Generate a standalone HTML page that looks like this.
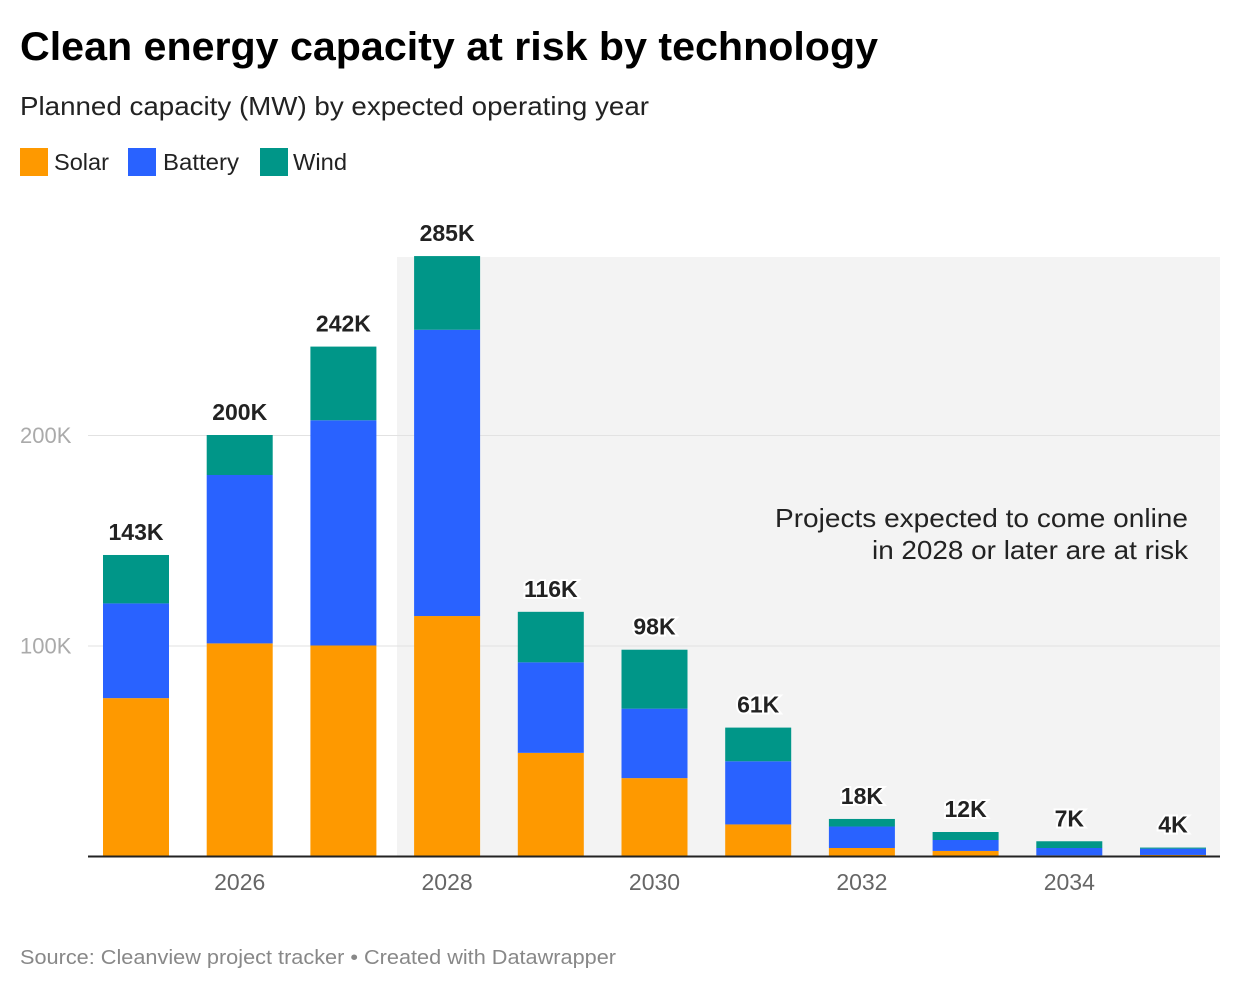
<!DOCTYPE html>
<html><head><meta charset="utf-8"><style>
body{margin:0;background:#fff;}
svg{display:block;font-family:"Liberation Sans",sans-serif;}
</style></head><body>
<svg id="chart" width="1240" height="990" xmlns="http://www.w3.org/2000/svg">
<text x="20" y="60" font-size="40" font-weight="bold" fill="#000" textLength="858" lengthAdjust="spacingAndGlyphs">Clean energy capacity at risk by technology</text>
<text x="20" y="115" font-size="26" fill="#222" textLength="629" lengthAdjust="spacingAndGlyphs">Planned capacity (MW) by expected operating year</text>
<g>
<rect x="20" y="148" width="28" height="28" fill="#fe9900"/>
<text x="54" y="170" font-size="23" fill="#222" textLength="55" lengthAdjust="spacingAndGlyphs">Solar</text>
<rect x="128" y="148" width="28" height="28" fill="#2962ff"/>
<text x="163" y="170" font-size="23" fill="#222" textLength="76" lengthAdjust="spacingAndGlyphs">Battery</text>
<rect x="260" y="148" width="28" height="28" fill="#009688"/>
<text x="293" y="170" font-size="23" fill="#222" textLength="54" lengthAdjust="spacingAndGlyphs">Wind</text>
</g>
<rect x="397" y="257" width="823" height="599" fill="#f3f3f3"/>
<g id="grid"></g>
<g id="bars"></g>
<text font-size="26" fill="#222"><tspan x="775" y="527" textLength="413" lengthAdjust="spacingAndGlyphs">Projects expected to come online</tspan><tspan x="872" y="559" textLength="316" lengthAdjust="spacingAndGlyphs">in 2028 or later are at risk</tspan></text>
<line x1="88" x2="1220" y1="856.5" y2="856.5" stroke="#222" stroke-width="2"/>
<g id="xticks"></g>
<text x="20" y="964" font-size="20" fill="#888" textLength="596" lengthAdjust="spacingAndGlyphs">Source: Cleanview project tracker • Created with Datawrapper</text>
</svg>
<script>
const years=[2025,2026,2027,2028,2029,2030,2031,2032,2033,2034,2035];
const solar=[75,101,100,114,49,37,15,3.8,2.4,0.3,0.5];
const battery=[45,80,107,136,43,33,30,10.2,5.2,3.5,3.0];
const wind=[23,19,35,35,24,28,16,3.6,3.8,3.2,0.5];
const totalLabels=["143K","200K","242K","285K","116K","98K","61K","18K","12K","7K","4K"];
const yTicks=[100,200];
const xTickYears=[2026,2028,2030,2032,2034];
const NS="http://www.w3.org/2000/svg";
const y0=856,pxPer=2.105;
const yScale=v=>y0-v*pxPer;
const xCenter=yr=>136+(yr-2025)*103.7;
const bw=66;
function mk(tag,attrs,parent){const e=document.createElementNS(NS,tag);for(const k in attrs)e.setAttribute(k,attrs[k]);parent.appendChild(e);return e;}
const grid=document.getElementById('grid'),bars=document.getElementById('bars'),xt=document.getElementById('xticks');
yTicks.forEach(t=>{
 const l=mk('line',{x1:88,x2:1220,y1:yScale(t)+0.5,y2:yScale(t)+0.5,stroke:'#e2e2e2','stroke-width':1},grid);
 
 
 const tx=mk('text',{x:20,y:yScale(t)+8,'font-size':22,fill:'#aaa'},grid);
 tx.textContent=t+'K';
 
 
});
const series=[['solar',solar,'#fe9900'],['battery',battery,'#2962ff'],['wind',wind,'#009688']];
years.forEach((yr,i)=>{
 let base=0;const x=xCenter(yr)-bw/2;
 series.forEach(([n,arr,c])=>{
  const v=arr[i];
  const r=mk('rect',{x:x,y:yScale(base+v),width:bw,height:v*pxPer,fill:c},bars);
  
  
  base+=v;
 });
 const t=mk('text',{x:xCenter(yr),y:yScale(base)-15,'font-size':23,'font-weight':'bold',fill:'#222','text-anchor':'middle',stroke:'#fff','stroke-width':4,'paint-order':'stroke'},bars);
 t.textContent=totalLabels[i];
 
 
});
xTickYears.forEach(yr=>{
 const t=mk('text',{x:xCenter(yr),y:890,'font-size':23,fill:'#666','text-anchor':'middle'},xt);
 t.textContent=yr;
 
 
});
</script>
</body></html>
